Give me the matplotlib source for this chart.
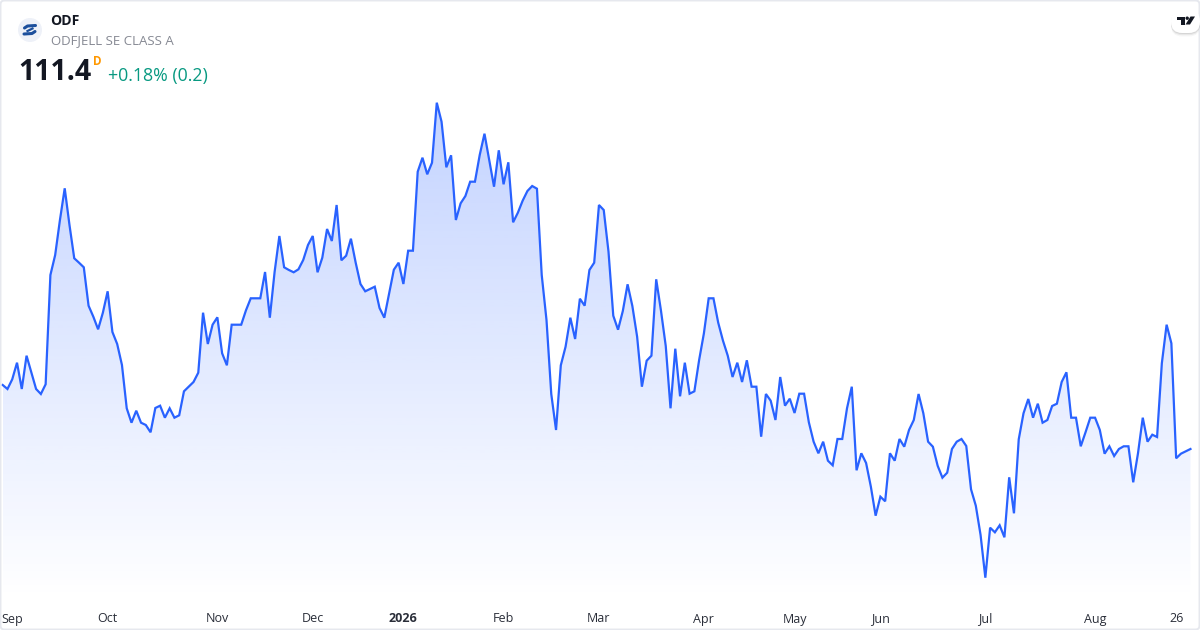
import numpy as np
import matplotlib
matplotlib.use('Agg')
import matplotlib.pyplot as plt
from matplotlib.patches import FancyBboxPatch, Circle, Polygon

# daily closes
closes = [
    117.8, 117.4, 118.37, 120.03, 117.4, 120.73, 119.07, 117.4, 116.9, 117.87,
    128.8, 130.8, 134.3, 137.47, 133.8, 130.47, 130.03, 129.57, 125.73, 124.63,
    123.37, 125.03, 127.17, 123.1, 121.9, 119.8, 115.47, 114.03, 115.23, 114.03,
    113.8, 113.07, 115.5, 115.73, 114.53, 115.47, 114.53, 114.77, 117.17, 117.63,
    118.1, 119.03, 125.03, 121.9, 123.83, 124.57, 120.97, 119.77, 123.83, 123.83,
    123.83, 125.27, 126.47, 126.47, 126.47, 129.1, 124.53, 129.1, 132.7, 129.57,
    129.3, 129.07, 129.37, 130.3, 131.8, 132.7, 129.07, 130.53, 133.4, 132.2,
    135.8, 130.27, 130.73, 132.43, 130.03, 127.9, 127.17, 127.4, 127.63, 125.5,
    124.53, 126.93, 129.33, 130.03, 127.9, 131.23, 131.23, 139.13, 140.53, 138.87,
    140.03, 146.03, 144.13, 139.57, 140.77, 134.3, 135.97, 136.7, 138.13, 138.13,
    140.8, 142.93, 140.3, 137.63, 141.27, 137.87, 140.07, 134.07, 135.03, 136.23,
    137.2, 137.7, 137.43, 128.8, 124.3, 116.9, 113.3, 119.77, 121.63, 124.53,
    122.4, 126.43, 125.73, 129.3, 130.03, 135.8, 135.3, 131.13, 124.73, 123.33,
    125.2, 127.87, 125.7, 122.63, 117.63, 120.23, 120.73, 128.37, 125.23, 121.7,
    115.47, 121.43, 116.67, 120.03, 116.93, 117.17, 120.3, 122.97, 126.47, 126.47,
    124.03, 122.23, 120.73, 118.6, 120.03, 118.1, 120.27, 117.63, 117.63, 112.63,
    116.9, 116.23, 114.3, 118.6, 115.73, 116.43, 115.0, 116.93, 116.93, 114.07,
    112.13, 110.97, 112.13, 110.23, 109.77, 112.4, 112.4, 115.47, 117.63, 109.27,
    110.97, 110.0, 107.63, 104.73, 106.63, 106.17, 110.97, 110.23, 112.4, 111.63,
    113.3, 114.3, 116.9, 114.97, 112.13, 111.63, 109.73, 108.53, 109.03, 111.4,
    112.13, 112.4, 111.7, 107.37, 105.73, 102.8, 98.53, 103.53, 103.07, 103.77,
    102.57, 108.57, 104.97, 112.37, 114.97, 116.4, 114.53, 115.93, 114.03, 114.3,
    115.7, 115.93, 118.1, 119.07, 114.53, 114.53, 111.67, 113.07, 114.53, 114.53,
    113.3, 110.93, 111.67, 110.7, 111.4, 111.67, 111.67, 108.07, 110.97, 114.53,
    112.13, 112.83, 112.6, 119.97, 123.83, 121.97, 110.47, 110.93, 111.17, 111.4,
]
tick_pos = [2, 22, 45, 65, 84, 105, 125, 147, 166, 184, 206, 229, 246]
tick_labels = ['Sep', 'Oct', 'Nov', 'Dec', '2026', 'Feb', 'Mar', 'Apr', 'May', 'Jun', 'Jul', 'Aug', '26']

plt.rcParams['font.family'] = ['Open Sans', 'DejaVu Sans']
LINE = '#2962ff'

fig = plt.figure(figsize=(12, 6.3), dpi=100, facecolor='white')
ax = fig.add_axes([0, 30 / 630, 1, 600 / 630])
days = np.arange(len(closes))
ax.set_xlim(-0.566, 251.0)
ax.set_ylim(96.3, 156.3)
for s in ax.spines.values():
    s.set_visible(False)
ax.set_yticks([])
ax.set_xticks(tick_pos)
ax.set_xticklabels(tick_labels, fontsize=9, color='#2a2e39')
ax.tick_params(axis='x', length=0, pad=9)
ax.get_xticklabels()[4].set_fontweight('bold')

# area under the line, fading out towards the bottom
top = max(closes)
grad = np.zeros((256, 1, 4))
grad[:, 0, :3] = matplotlib.colors.to_rgb(LINE)
grad[:, 0, 3] = np.linspace(0.28, 0.0, 256)
area = ax.fill_between(days, closes, 96.3, color='none', lw=0)
im = ax.imshow(grad, extent=[days[0], days[-1], 96.3, top], origin='upper',
               aspect='auto', zorder=1, interpolation='bilinear')
im.set_clip_path(area.get_paths()[0], transform=ax.transData)
ax.set_xlim(-0.566, 251.0)
ax.set_ylim(96.3, 156.3)
ax.plot(days, closes, color=LINE, lw=1.6, zorder=2, solid_joinstyle='miter')

# header, card border and logos in pixel coordinates
ov = fig.add_axes([0, 0, 1, 1], facecolor='none')
ov.set_xlim(0, 1200)
ov.set_ylim(630, 0)
ov.axis('off')
ov.add_patch(FancyBboxPatch((0.5, 0.5), 1199, 629, boxstyle='round,pad=0,rounding_size=4',
                            fc='none', ec='#e6e8ee', lw=1.4))

ov.add_patch(Circle((30, 30), 12, fc='#eef1f8', ec='none'))
ov.plot([24.5, 27.5, 35.5], [28, 26, 25.5], color='#1c4f9c', lw=2.2, solid_capstyle='round')
ov.plot([24, 32, 35], [34, 33.5, 31.5], color='#1c4f9c', lw=2.2, solid_capstyle='round')
ov.plot([27.5, 32.5], [31, 28.5], color='#1c4f9c', lw=1.6)

ov.text(50.5, 21, 'ODF', fontsize=10.1, fontweight='bold', color='#131722', va='center')
ov.text(51, 40.5, 'ODFJELL SE CLASS A', fontsize=9.5, color='#868993', va='center')
ov.text(18.5, 72.5, '111.4', fontsize=20.5, fontweight='bold', color='#131722', va='center')
ov.text(93, 61.5, 'D', fontsize=8.4, fontweight='bold', color='#ff9800', va='center')
ov.text(108, 75.5, '+0.18% (0.2)', fontsize=12.8, color='#089981', va='center')

# TradingView badge
for off, col in ((3.5, '#00000008'), (2.2, '#0000000f'), (1, '#00000014')):
    ov.add_patch(FancyBboxPatch((1171, 10 + off), 29, 23, boxstyle='round,pad=0,rounding_size=11',
                                fc=col, ec='none'))
ov.add_patch(FancyBboxPatch((1171, 10), 29, 23, boxstyle='round,pad=0,rounding_size=11',
                            fc='white', ec='none'))
ov.add_patch(Polygon([(1177, 16.5), (1184.5, 16.5), (1184.5, 24.5), (1180.5, 24.5), (1180.5, 20), (1177, 20)],
                     fc='#131722', ec='none'))
ov.add_patch(Polygon([(1190.5, 16.5), (1195, 16.5), (1190, 24.5), (1185.5, 24.5)], fc='#131722', ec='none'))
ov.add_patch(Circle((1187.2, 18.2), 1.7, fc='#131722', ec='none'))

fig.savefig('out.png', dpi=100)
